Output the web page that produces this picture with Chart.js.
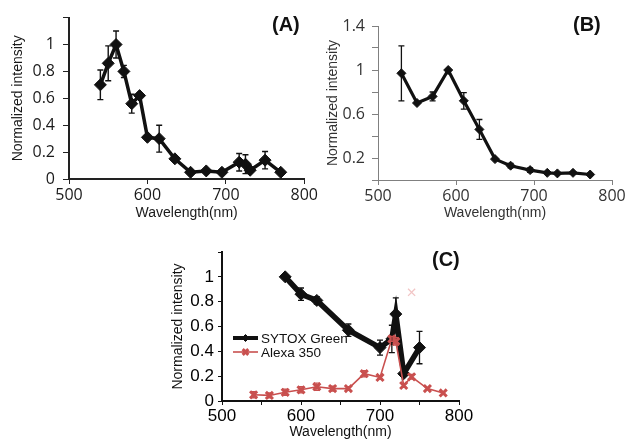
<!DOCTYPE html>
<html>
<head>
<meta charset="utf-8">
<script src="https://cdn.jsdelivr.net/npm/chart.js@4.4.0/dist/chart.umd.min.js"></script>
<style>
  body { margin: 0; background: #fff; width: 628px; height: 439px; overflow: hidden; position: relative; }
  canvas { position: absolute; }
  .tag { position: absolute; font: bold 20px "Liberation Sans", Arial, sans-serif; line-height: 20px; color: #111; }
</style>
</head>
<body>
<canvas id="chartA" width="320" height="222" style="left:0;top:0"></canvas>
<canvas id="chartB" width="318" height="222" style="left:310px;top:0"></canvas>
<canvas id="chartC" width="315" height="203" style="left:160px;top:236px"></canvas>
<div class="tag" style="left:272px;top:14px">(A)</div>
<div class="tag" style="left:573px;top:14px">(B)</div>
<div class="tag" style="left:432px;top:249px">(C)</div>
<script>
// panel A
let aWavelength = [540, 550, 560, 570, 580, 590, 600, 615, 635, 655, 675, 695, 717, 725, 731, 750, 770];
let aIntensity = [0.70, 0.86, 1.00, 0.80, 0.56, 0.62, 0.31, 0.30, 0.15, 0.05, 0.06, 0.05, 0.125, 0.11, 0.065, 0.14, 0.05];
let aError = [0.11, 0.13, 0.10, 0.045, 0.07, 0, 0, 0.10, 0, 0, 0, 0, 0.065, 0.07, 0, 0.065, 0];

// panel B
let bWavelength = [530, 550, 570, 590, 610, 630, 650, 670, 695, 717, 730, 750, 772];
let bIntensity = [0.97, 0.70, 0.76, 1.00, 0.72, 0.46, 0.19, 0.13, 0.09, 0.065, 0.06, 0.065, 0.05];
let bError = [0.25, 0, 0.04, 0, 0.075, 0.09, 0, 0.02, 0.02, 0, 0, 0, 0];

// panel C
let sytoxWavelength = [580, 600, 620, 660, 700, 715, 720, 730, 750];
let sytoxIntensity = [1.00, 0.86, 0.81, 0.57, 0.43, 0.50, 0.70, 0.22, 0.43];
let sytoxError = [0, 0.05, 0.03, 0.05, 0.06, 0.11, 0.13, 0, 0.13];
let alexaWavelength = [540, 560, 580, 600, 620, 640, 660, 680, 700, 715, 720, 730, 740, 760, 780];
let alexaIntensity = [0.05, 0.045, 0.07, 0.09, 0.115, 0.10, 0.10, 0.22, 0.19, 0.50, 0.48, 0.125, 0.195, 0.10, 0.065];
let alexaError = [0.025, 0.02, 0.025, 0.025, 0.03, 0.02, 0.015, 0.025, 0.015, 0.02, 0.03, 0.015, 0.02, 0, 0];
let strayWavelength = [740];
let strayIntensity = [0.875];

let seriesNames = ["SYTOX Green", "Alexa 350"];
let xTitle = "Wavelength(nm)";
let yTitle = "Normalized intensity";

const toPoints = (xs, ys) => xs.map((x, i) => ({ x: x, y: ys[i] }));
const round1 = (v) => Math.round(v * 10) / 10;

//error bars drawn through the y scale
const errorBars = {
  id: "errorBars",
  afterDatasetsDraw(chart) {
    const ctx = chart.ctx;
    const yScale = chart.scales.y;
    chart.data.datasets.forEach((ds, i) => {
      if (!ds.errors) return;
      const meta = chart.getDatasetMeta(i);
      ctx.save();
      ctx.strokeStyle = ds.errorColor;
      ctx.lineWidth = ds.errorWidth;
      meta.data.forEach((pt, j) => {
        const e = ds.errors[j];
        if (!e) return;
        const v = ds.data[j].y;
        const top = yScale.getPixelForValue(v + e);
        const bot = yScale.getPixelForValue(v - e);
        ctx.beginPath();
        ctx.moveTo(pt.x, top);
        ctx.lineTo(pt.x, bot);
        ctx.moveTo(pt.x - 3, top);
        ctx.lineTo(pt.x + 3, top);
        ctx.moveTo(pt.x - 3, bot);
        ctx.lineTo(pt.x + 3, bot);
        ctx.stroke();
      });
      ctx.restore();
    });
  },
};

//legend inside the plot area of panel C
const insideLegend = {
  id: "insideLegend",
  afterDraw(chart, args, opts) {
    if (!opts.show) return;
    const ctx = chart.ctx;
    const area = chart.chartArea;
    let y = area.top + opts.dy;
    chart.data.datasets.forEach((ds) => {
      if (!ds.label) return;
      const x0 = area.left + opts.dx;
      ctx.save();
      ctx.strokeStyle = ds.borderColor;
      ctx.lineWidth = ds.legendLineWidth;
      ctx.beginPath();
      ctx.moveTo(x0, y);
      ctx.lineTo(x0 + 25, y);
      ctx.stroke();
      ctx.fillStyle = ds.pointBackgroundColor;
      ctx.strokeStyle = ds.pointBorderColor;
      ctx.lineWidth = ds.pointBorderWidth;
      Chart.helpers.drawPoint(ctx, { pointStyle: ds.pointStyle, radius: ds.legendPointRadius, rotation: 0, borderWidth: ds.pointBorderWidth }, x0 + 12.5, y);
      ctx.fillStyle = "#111";
      ctx.font = '13.5px "Liberation Sans", Arial, sans-serif';
      ctx.textBaseline = "middle";
      ctx.fillText(ds.label, x0 + 28, y + 1);
      ctx.restore();
      y += opts.rowHeight;
    });
  },
};

function makeScales(p) {
  return {
    x: {
      type: "linear",
      min: 500,
      max: 800,
      afterFit: (s) => { s.height = p.xHeight; },
      ticks: {
        stepSize: p.xStep,
        autoSkip: false,
        maxRotation: 0,
        padding: p.xPad,
        color: p.tickColor,
        font: p.tickFont,
        callback: (v) => (v % 100 === 0 ? String(v) : ""),
      },
      grid: { drawOnChartArea: false, drawTicks: true, tickLength: p.xTickLen, color: p.axisColor, tickWidth: 1 },
      border: { color: p.axisColor, width: p.axisWidth },
      title: { display: true, text: xTitle, color: p.titleColor, font: p.xTitleFont, padding: { top: 0, bottom: 0 } },
    },
    y: {
      type: "linear",
      min: 0,
      max: p.yMax,
      afterFit: (s) => { s.width = p.yWidth; },
      ticks: {
        stepSize: 0.2,
        autoSkip: false,
        padding: p.yPad,
        color: p.tickColor,
        font: p.tickFont,
        callback: p.yLabel,
      },
      grid: { drawOnChartArea: false, drawTicks: true, tickLength: p.yTickLen, color: p.axisColor, tickWidth: 1 },
      border: { color: p.axisColor, width: p.axisWidth },
      title: { display: true, text: yTitle, color: p.titleColor, font: { family: '"Liberation Sans", Arial, sans-serif', size: 14 }, padding: { top: p.yTitlePad, bottom: 0 } },
    },
  };
}

function makeChart(id, datasets, padding, p, legendOpts) {
  return new Chart(document.getElementById(id), {
    type: "line",
    data: { datasets: datasets },
    options: {
      responsive: false,
      animation: false,
      layout: { padding: padding },
      scales: makeScales(p),
      plugins: {
        legend: { display: false },
        tooltip: { enabled: false },
        insideLegend: legendOpts || { show: false },
      },
    },
    plugins: [errorBars, insideLegend],
  });
}

const calibriLike = { family: '"Open Sans", sans-serif', size: 16 };
const titleFontA = { family: '"Liberation Sans", Arial, sans-serif', size: 14 };

makeChart(
  "chartA",
  [{
    data: toPoints(aWavelength, aIntensity),
    errors: aError,
    errorColor: "#111",
    errorWidth: 1.4,
    borderColor: "#111",
    borderWidth: 3.5,
    pointStyle: "rectRot",
    pointRadius: 6,
    pointBackgroundColor: "#111",
    pointBorderColor: "#111",
    pointBorderWidth: 1,
  }],
  { left: 0, top: 12, right: 15, bottom: 0 },
  {
    xHeight: 43, xStep: 100, xPad: 2, xTickLen: 5,
    yMax: 1.2, yWidth: 69, yPad: 8, yTickLen: 6, yTitlePad: 10,
    tickColor: "#1a1a1a", tickFont: calibriLike, titleColor: "#1a1a1a", xTitleFont: titleFontA,
    axisColor: "#222", axisWidth: 2,
    yLabel: (v) => (v > 1.1 ? "" : String(round1(v))),
  }
);

makeChart(
  "chartB",
  [{
    data: toPoints(bWavelength, bIntensity),
    errors: bError,
    errorColor: "#111",
    errorWidth: 1.3,
    borderColor: "#111",
    borderWidth: 3.2,
    pointStyle: "rectRot",
    pointRadius: 4.5,
    pointBackgroundColor: "#111",
    pointBorderColor: "#111",
    pointBorderWidth: 1,
  }],
  { left: 0, top: 26, right: 16, bottom: 0 },
  {
    xHeight: 42, xStep: 100, xPad: 2, xTickLen: 5,
    yMax: 1.4, yWidth: 68, yPad: 7, yTickLen: 6, yTitlePad: 15,
    tickColor: "#333", tickFont: calibriLike, titleColor: "#333", xTitleFont: titleFontA,
    axisColor: "#808080", axisWidth: 1,
    yLabel: (v) => (Math.round(v * 10) % 4 === 2 ? String(round1(v)) : ""),
  }
);

makeChart(
  "chartC",
  [
    {
      label: seriesNames[0],
      order: 2,
      data: toPoints(sytoxWavelength, sytoxIntensity),
      errors: sytoxError,
      errorColor: "#111",
      errorWidth: 1.3,
      borderColor: "#111",
      borderWidth: 5.5,
      legendLineWidth: 4,
      pointStyle: "rectRot",
      pointRadius: 6,
      legendPointRadius: 3.5,
      pointBackgroundColor: "#111",
      pointBorderColor: "#111",
      pointBorderWidth: 1,
    },
    {
      label: seriesNames[1],
      order: 1,
      data: toPoints(alexaWavelength, alexaIntensity),
      errors: alexaError,
      errorColor: "#c9504f",
      errorWidth: 1.2,
      borderColor: "#c9504f",
      borderWidth: 1.6,
      legendLineWidth: 1.6,
      pointStyle: "crossRot",
      pointRadius: 5,
      legendPointRadius: 4,
      pointBackgroundColor: "#c9504f",
      pointBorderColor: "#c9504f",
      pointBorderWidth: 3,
    },
    {
      label: "",
      order: 0,
      data: toPoints(strayWavelength, strayIntensity),
      showLine: false,
      borderColor: "rgba(230,140,140,0.5)",
      pointStyle: "crossRot",
      pointRadius: 5,
      pointBackgroundColor: "rgba(230,140,140,0.5)",
      pointBorderColor: "rgba(230,140,140,0.5)",
      pointBorderWidth: 1.3,
    },
  ],
  { left: 0, top: 16, right: 16, bottom: 0 },
  {
    xHeight: 38, xStep: 50, xPad: 1, xTickLen: 4,
    yMax: 1.2, yWidth: 62, yPad: 4, yTickLen: 4, yTitlePad: 10,
    tickColor: "#000", tickFont: { family: '"Liberation Sans", Arial, sans-serif', size: 17 }, titleColor: "#111",
    xTitleFont: { family: '"Liberation Sans", Arial, sans-serif', size: 14, lineHeight: 1 },
    axisColor: "#111", axisWidth: 2,
    yLabel: (v) => (v > 1.1 ? "" : String(round1(v))),
  },
  { show: true, dx: 11, dy: 86, rowHeight: 14 }
);
</script>
</body>
</html>
